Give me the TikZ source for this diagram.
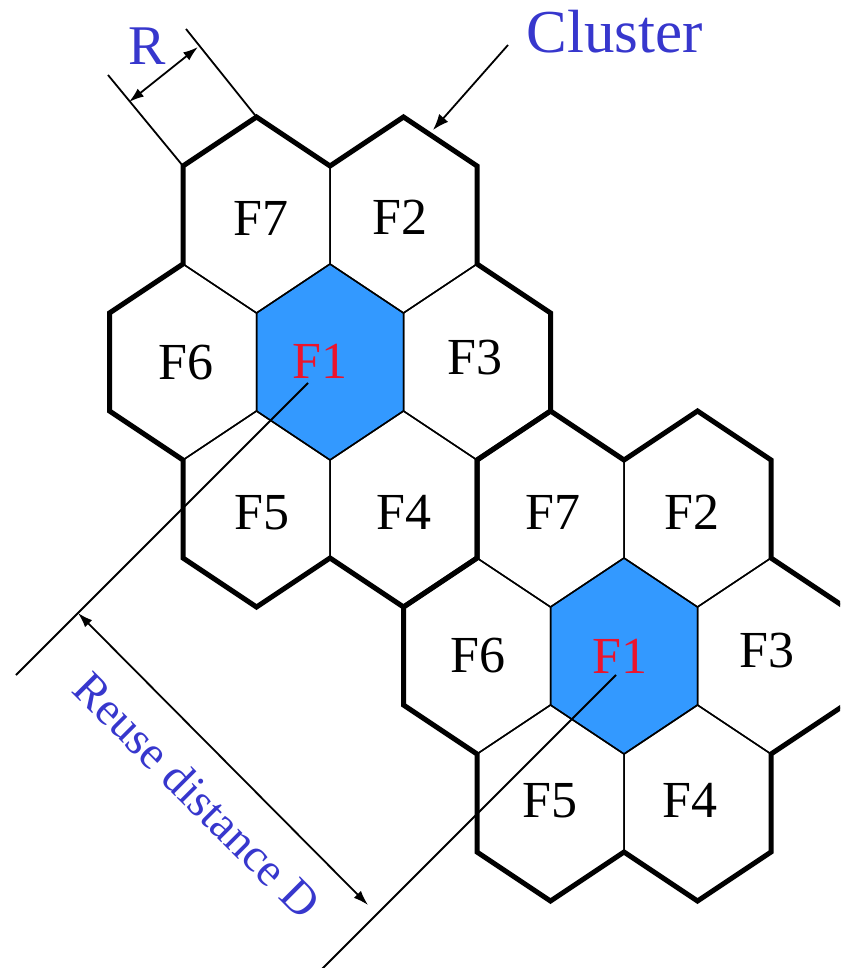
\documentclass[tikz,border=0pt]{standalone}
\usepackage{fontspec}
\setmainfont{Liberation Serif}
\usetikzlibrary{arrows.meta}
\definecolor{cellblue}{RGB}{51,153,255}
\definecolor{txtblue}{RGB}{55,55,205}
\definecolor{txtred}{RGB}{235,20,45}
\begin{document}
\begin{tikzpicture}[x=1pt,y=-1pt,
  thinhex/.style={draw=black, line width=1.5pt, line join=miter},
  clusterline/.style={draw=black, line width=5pt, line join=miter},
  celllabel/.style={font=\fontsize{52}{52}\selectfont, inner sep=0pt, anchor=base},
  redlabel/.style={celllabel, text=txtred},
  thinline/.style={draw=black, line width=1.8pt},
  dimarrow/.style={thinline, {Latex[length=15pt,width=10pt]}-{Latex[length=15pt,width=10pt]}},
  ptrarrow/.style={thinline, -{Latex[length=16pt,width=12pt]}},
  bluetext/.style={text=txtblue, inner sep=0pt}]
\useasboundingbox (0,0) rectangle (840,968);
\clip (0,0) rectangle (840,968);
% blue F1 cells
\foreach \cx/\cy in {330/362, 624/656}
  \fill[cellblue] (\cx,\cy) ++(0,-98) -- ++(73.5,49) -- ++(0,98) -- ++(-73.5,49) -- ++(-73.5,-49) -- ++(0,-98) -- cycle;
% all cells, thin
\foreach \cx/\cy in {256.5/215, 403.5/215, 183/362, 330/362, 477/362, 256.5/509, 403.5/509,
                     550.5/509, 697.5/509, 477/656, 624/656, 771/656, 550.5/803, 697.5/803}
  \draw[thinhex] (\cx,\cy) ++(0,-98) -- ++(73.5,49) -- ++(0,98) -- ++(-73.5,49) -- ++(-73.5,-49) -- ++(0,-98) -- cycle;
% cluster outlines, thick
\foreach \cx/\cy in {330/362, 624/656}
  \draw[clusterline] (\cx-147,\cy-196) -- ++(73.5,-49) -- ++(73.5,49) -- ++(73.5,-49) -- ++(73.5,49)
    -- ++(0,98) -- ++(73.5,49) -- ++(0,98) -- ++(-73.5,49) -- ++(0,98) -- ++(-73.5,49)
    -- ++(-73.5,-49) -- ++(-73.5,49) -- ++(-73.5,-49) -- ++(0,-98) -- ++(-73.5,-49)
    -- ++(0,-98) -- ++(73.5,-49) -- cycle;
% cell labels, cluster 1
\node[celllabel] (aF7) at (261,236) {F7};
\node[celllabel] (aF2) at (400,234) {F2};
\node[celllabel] (aF6) at (186,379) {F6};
\node[redlabel]  (aF1) at (320,378) {F1};
\node[celllabel] (aF3) at (475,374) {F3};
\node[celllabel] (aF5) at (262,529) {F5};
\node[celllabel] (aF4) at (404,529) {F4};
% cell labels, cluster 2
\node[celllabel] (bF7) at (553,529) {F7};
\node[celllabel] (bF2) at (692,529) {F2};
\node[celllabel] (bF6) at (478,672) {F6};
\node[redlabel]  (bF1) at (620,673) {F1};
\node[celllabel] (bF3) at (767,667) {F3};
\node[celllabel] (bF5) at (550,817) {F5};
\node[celllabel] (bF4) at (690,817) {F4};
% R dimension
\coordinate (vA) at (183,166);
\coordinate (vB) at (256.5,117);
\coordinate (eA) at (108,75);
\coordinate (eB) at (186,29);
\draw[thinline] (vA) -- (eA);
\draw[thinline] (vB) -- (eB);
\coordinate (rA) at (129,102);
\coordinate (rB) at (198,47);
\draw[dimarrow] (rA) -- (rB);
\node[bluetext, anchor=base, font=\fontsize{56}{56}\selectfont] (rlabel) at (147,65) {R};
% Cluster pointer
\node[bluetext, anchor=base, font=\fontsize{61}{61}\selectfont] (clabel) at (614.5,53) {Cluster};
\coordinate (cS) at (508,45);
\coordinate (cT) at (433,130);
\draw[ptrarrow] (cS) -- (cT);
% reuse distance
\coordinate (dA1) at (308,383);
\coordinate (dA2) at (16,675);
\coordinate (dB1) at (616,675);
\coordinate (dB2) at (300,991);
\draw[thinline] (dA1) -- (dA2);
\draw[thinline] (dB1) -- (dB2);
\coordinate (dS) at (78,613);
\coordinate (dT) at (368,905);
\draw[dimarrow] (dS) -- (dT);
\node[bluetext, rotate=-45, font=\fontsize{47}{47}\selectfont] (dlabel) at (197,795) {Reuse distance D};
\end{tikzpicture}
\end{document}
